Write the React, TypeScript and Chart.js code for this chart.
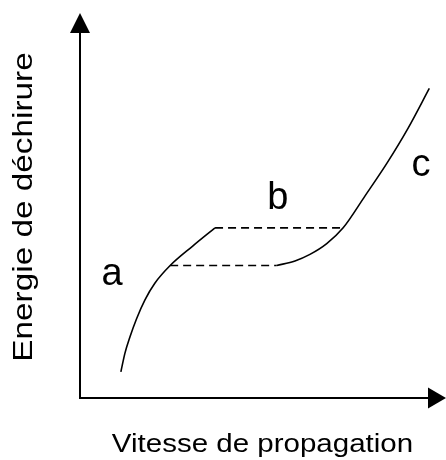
import React, { useEffect, useRef } from "react";
import { Chart, registerables } from "chart.js";

Chart.register(...registerables);

// Curve "a" (low-speed branch)
const curveAx = [11.2, 12.3, 13.7, 15.5, 17.8, 20.5, 24.7, 30.8, 37.0];
const curveAy = [6.8, 11.6, 15.9, 20.6, 25.5, 29.8, 34.4, 39.4, 44.2];
// Curve "c" (high-speed branch)
const curveCx = [53.9, 58.9, 63.0, 67.6, 72.1, 78.1, 84.1, 89.9, 95.7];
const curveCy = [34.4, 35.6, 37.3, 40.1, 44.2, 52.5, 61.0, 70.1, 80.4];
// Dashed "b" plateau bounds
const lowerDashX = [24.7, 53.9];
const lowerDashY = [34.4, 34.4];
const upperDashX = [37.0, 72.1];
const upperDashY = [44.2, 44.2];
// Region labels
const regionLabels = ["a", "b", "c"];
const regionLabelX = [8.8, 54.2, 93.4];
const regionLabelY = [32.2, 51.9, 60.3];
// Axis titles
const xTitle = "Vitesse de propagation";
const yTitle = "Energie de déchirure";

const toPoints = (xs: number[], ys: number[]) => xs.map((x, i) => ({ x, y: ys[i] }));

const decorPlugin = {
  id: "decor",
  afterDraw(chart: any) {
    const { ctx } = chart;
    const xs = chart.scales.x;
    const ys = chart.scales.y;
    const x0 = xs.getPixelForValue(0);
    const x1 = xs.getPixelForValue(100);
    const y0 = ys.getPixelForValue(0);
    const y1 = ys.getPixelForValue(100);
    ctx.save();
    ctx.strokeStyle = "#000";
    ctx.fillStyle = "#000";
    ctx.lineWidth = 2;
    // y axis
    ctx.beginPath();
    ctx.moveTo(x0, y0);
    ctx.lineTo(x0, y1 + 18);
    ctx.stroke();
    // x axis
    ctx.beginPath();
    ctx.moveTo(x0 - 1, y0);
    ctx.lineTo(x1 - 16, y0);
    ctx.stroke();
    // arrowheads
    ctx.beginPath();
    ctx.moveTo(x0, y1);
    ctx.lineTo(x0 - 10, y1 + 20);
    ctx.lineTo(x0 + 10, y1 + 20);
    ctx.closePath();
    ctx.fill();
    ctx.beginPath();
    ctx.moveTo(x1 + 1, y0);
    ctx.lineTo(x1 - 17, y0 - 10.5);
    ctx.lineTo(x1 - 17, y0 + 10.5);
    ctx.closePath();
    ctx.fill();
    // region labels
    ctx.font = "38px 'Liberation Sans', Arial, sans-serif";
    ctx.textAlign = "center";
    ctx.textBaseline = "middle";
    regionLabels.forEach((t, i) => {
      ctx.fillText(t, xs.getPixelForValue(regionLabelX[i]), ys.getPixelForValue(regionLabelY[i]));
    });
    // axis titles
    ctx.textBaseline = "alphabetic";
    ctx.save();
    ctx.font = "26px 'Liberation Sans', Arial, sans-serif";
    ctx.translate((x0 + x1) / 2, y0 + 54);
    ctx.scale(1.135, 1);
    ctx.fillText(xTitle, 0, 0);
    ctx.restore();
    ctx.save();
    ctx.font = "28px 'Liberation Sans', Arial, sans-serif";
    ctx.translate(31.5, (y0 + y1) / 2 + 1.5);
    ctx.rotate(-Math.PI / 2);
    ctx.scale(1.19, 1);
    ctx.fillText(yTitle, 0, 0);
    ctx.restore();
    ctx.restore();
  },
};

export default function App() {
  const ref = useRef<HTMLCanvasElement>(null);
  useEffect(() => {
    const line = { borderColor: "#000", borderWidth: 1.6, pointRadius: 0, fill: false, showLine: true };
    const chart = new Chart(ref.current as HTMLCanvasElement, {
      type: "scatter",
      data: {
        datasets: [
          { ...line, data: toPoints(curveAx, curveAy), cubicInterpolationMode: "monotone" },
          { ...line, data: toPoints(curveCx, curveCy), cubicInterpolationMode: "monotone" },
          { ...line, data: toPoints(lowerDashX, lowerDashY), borderDash: [8, 5] },
          { ...line, data: toPoints(upperDashX, upperDashY), borderDash: [8, 5] },
        ],
      } as any,
      options: {
        animation: false,
        responsive: true,
        maintainAspectRatio: false,
        layout: { padding: { left: 80, right: 1, top: 13, bottom: 62 } },
        plugins: { legend: { display: false }, tooltip: { enabled: false } },
        scales: {
          x: { type: "linear", min: 0, max: 100, display: false },
          y: { type: "linear", min: 0, max: 100, display: false },
        },
      },
      plugins: [decorPlugin],
    });
    return () => chart.destroy();
  }, []);
  return (
    <div style={{ position: "fixed", left: 0, top: 0, width: 446, height: 460, background: "#fff" }}>
      <canvas ref={ref} />
    </div>
  );
}
